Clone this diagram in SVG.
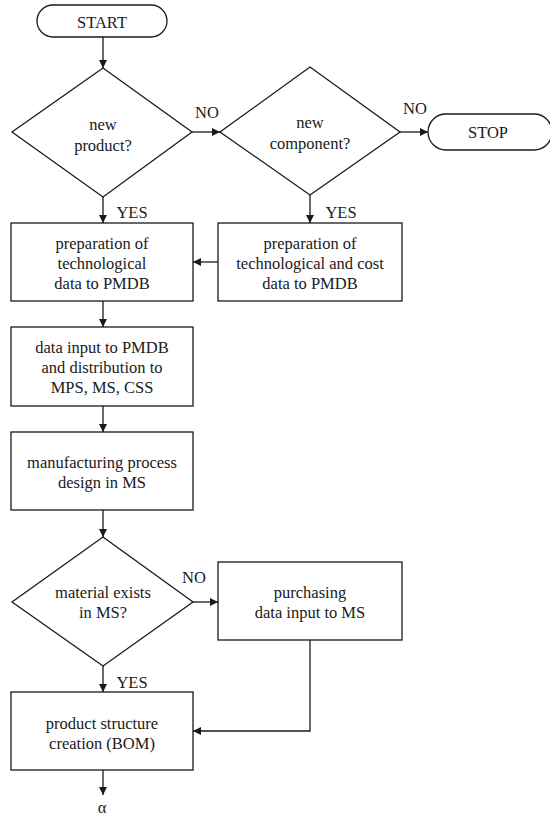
<svg xmlns="http://www.w3.org/2000/svg" width="550" height="818" viewBox="0 0 550 818">
<style>
.s{fill:#fff;stroke:#1a1a1a;stroke-width:1.3}
.c{fill:none;stroke:#1a1a1a;stroke-width:1.3}
text{font-family:"Liberation Serif","Times New Roman",serif;font-size:16.5px;fill:#1a1a1a;text-anchor:middle;dominant-baseline:central}
</style>
<defs>
<marker id="ah" viewBox="0 0 10 10" refX="10" refY="5" markerWidth="8" markerHeight="8" markerUnits="userSpaceOnUse" orient="auto">
<path d="M0,0 L10,5 L0,10 Z" fill="#1a1a1a"/>
</marker>
</defs>
<rect width="550" height="818" fill="#fff"/>
<g id="connectors">
<line class="c" x1="103" y1="37" x2="103" y2="68" marker-end="url(#ah)"/>
<line class="c" x1="192" y1="132" x2="220" y2="132" marker-end="url(#ah)"/>
<line class="c" x1="400" y1="132" x2="428" y2="132" marker-end="url(#ah)"/>
<line class="c" x1="103" y1="197" x2="103" y2="223" marker-end="url(#ah)"/>
<line class="c" x1="310" y1="195" x2="310" y2="223" marker-end="url(#ah)"/>
<line class="c" x1="218" y1="262" x2="193" y2="262" marker-end="url(#ah)"/>
<line class="c" x1="103" y1="301" x2="103" y2="327" marker-end="url(#ah)"/>
<line class="c" x1="103" y1="406" x2="103" y2="432" marker-end="url(#ah)"/>
<line class="c" x1="103" y1="510" x2="103" y2="537" marker-end="url(#ah)"/>
<line class="c" x1="193" y1="602" x2="218" y2="602" marker-end="url(#ah)"/>
<line class="c" x1="103" y1="666" x2="103" y2="692" marker-end="url(#ah)"/>
<polyline class="c" points="310,640 310,731 193,731" marker-end="url(#ah)"/>
<line class="c" x1="103" y1="770" x2="103" y2="795" marker-end="url(#ah)"/>
<text x="207" y="112">NO</text>
<text x="415" y="108">NO</text>
<text x="132" y="212">YES</text>
<text x="341" y="212">YES</text>
<text x="194" y="577">NO</text>
<text x="132" y="682">YES</text>
<text x="102" y="807">α</text>
</g>
<g id="start">
<rect class="s" x="37" y="5" width="130" height="32" rx="16"/>
<text x="102" y="22">START</text>
</g>
<g id="newProduct">
<polygon class="s" points="103,68 192,132 103,197 12,132"/>
<text x="103" y="124">new</text>
<text x="103" y="145">product?</text>
</g>
<g id="newComponent">
<polygon class="s" points="310,67 400,132 310,195 220,132"/>
<text x="310" y="122">new</text>
<text x="310" y="143">component?</text>
</g>
<g id="stop">
<rect class="s" x="428" y="114" width="124" height="36" rx="18"/>
<text x="488" y="132">STOP</text>
</g>
<g id="prepTech">
<rect class="s" x="11" y="223" width="182" height="78"/>
<text x="102" y="243">preparation of</text>
<text x="102" y="263">technological</text>
<text x="102" y="283">data to PMDB</text>
</g>
<g id="prepTechCost">
<rect class="s" x="218" y="223" width="184" height="78"/>
<text x="310" y="243">preparation of</text>
<text x="310" y="263">technological and cost</text>
<text x="310" y="283">data to PMDB</text>
</g>
<g id="dataInput">
<rect class="s" x="11" y="327" width="182" height="79"/>
<text x="102" y="347">data input to PMDB</text>
<text x="102" y="367">and distribution to</text>
<text x="102" y="387">MPS, MS, CSS</text>
</g>
<g id="mfgDesign">
<rect class="s" x="11" y="432" width="182" height="78"/>
<text x="102" y="462">manufacturing process</text>
<text x="102" y="482">design in MS</text>
</g>
<g id="materialExists">
<polygon class="s" points="103,537 193,602 103,666 12,602"/>
<text x="103" y="592">material  exists</text>
<text x="103" y="612">in MS?</text>
</g>
<g id="purchasing">
<rect class="s" x="218" y="562" width="184" height="78"/>
<text x="310" y="592">purchasing</text>
<text x="310" y="612">data input to MS</text>
</g>
<g id="bom">
<rect class="s" x="11" y="692" width="182" height="78"/>
<text x="102" y="723">product structure</text>
<text x="102" y="743">creation (BOM)</text>
</g>
</svg>
